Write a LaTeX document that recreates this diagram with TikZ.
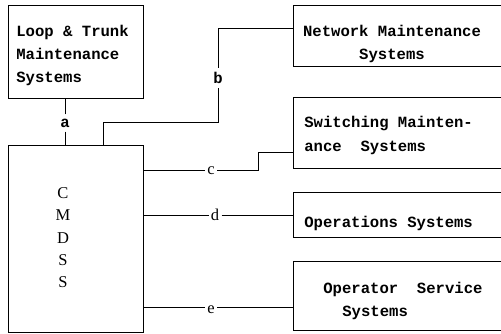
\documentclass[tikz,border=0pt]{standalone}
\usepackage{fontspec}
\setmainfont{Liberation Serif}
\setmonofont{Liberation Mono}
\begin{document}
\begin{tikzpicture}[x=1pt,y=-1pt, line width=0.75pt,
  box/.style={draw, rectangle, inner sep=0pt},
  tt/.style={font=\fontsize{15.6}{23}\selectfont\ttfamily\bfseries, inner sep=0pt},
  sr/.style={font=\fontsize{16.5}{22}\selectfont\rmfamily, inner sep=0pt},
  vlbl/.style={inner xsep=0pt, inner ysep=4pt},
  hlbl/.style={inner xsep=2pt, inner ysep=0pt}]
\useasboundingbox (0,0) rectangle (501,334);
\clip (0,0) rectangle (501,334);
% boxes
\node[box, minimum width=135pt, minimum height=93pt] (loop) at (75.5,51.5) {};
\node[box, minimum width=135pt, minimum height=187pt] (cmdss) at (75.5,238.5) {};
\node[box, minimum width=212pt, minimum height=61pt] (net) at (399,35.5) {};
\node[box, minimum width=212pt, minimum height=71pt] (sw) at (399,132.5) {};
\node[box, minimum width=212pt, minimum height=45pt] (ops) at (399,214.5) {};
\node[box, minimum width=212pt, minimum height=69pt] (opsv) at (399,295.5) {};
% texts
\node[tt, anchor=base west] (t1) at (16,37) {Loop \& Trunk};
\node[tt, anchor=base west] (t2) at (16,60) {Maintenance};
\node[tt, anchor=base west] (t3) at (16,83) {Systems};
\node[tt, anchor=base] (t4) at (392,37) {Network Maintenance};
\node[tt, anchor=base] (t5) at (392,60) {Systems};
\node[tt, anchor=base west] (t6) at (304,128) {Switching Mainten-};
\node[tt, anchor=base west] (t7) at (304,152) {ance~~Systems};
\node[tt, anchor=base west] (t8) at (304,227) {Operations Systems};
\node[tt, anchor=base west] (t9) at (323,293) {Operator~~Service};
\node[tt, anchor=base west] (t10) at (342,316) {Systems};
\node[sr, anchor=base] (m1) at (63,198) {C};
\node[sr, anchor=base] (m2) at (63,221) {M};
\node[sr, anchor=base] (m3) at (63,243) {D};
\node[sr, anchor=base] (m4) at (63,265) {S};
\node[sr, anchor=base] (m5) at (63,287) {S};
% connector labels
\node[tt, vlbl] (a) at (65,123) {a};
\node[tt, vlbl] (b) at (218,78) {b};
\node[sr, hlbl, anchor=base] (c) at (211,175) {c};
\node[sr, hlbl, anchor=base] (d) at (215,221) {d};
\node[sr, hlbl, anchor=base] (e) at (211,313) {e};
% coordinates
\coordinate (b1) at (103,122);
\coordinate (b2) at (218,122);
\coordinate (b3) at (218,28);
\coordinate (c1) at (258,170);
\coordinate (c2) at (258,152);
\coordinate (d1) at (0,215);
\coordinate (e1) at (0,307);
% connectors
\draw (a) -- (a |- loop.south);
\draw (a) -- (a |- cmdss.north);
\draw (b1 |- cmdss.north) -- (b1) -- (b2) -- (b);
\draw (b) -- (b3) -- (b3 -| net.west);
\draw (c1 -| cmdss.east) -- (c1 -| c.west);
\draw (c1 -| c.east) -- (c1) -- (c2) -- (c2 -| sw.west);
\draw (d1 -| cmdss.east) -- (d1 -| d.west);
\draw (d1 -| d.east) -- (d1 -| ops.west);
\draw (e1 -| cmdss.east) -- (e1 -| e.west);
\draw (e1 -| e.east) -- (e1 -| opsv.west);
\end{tikzpicture}
\end{document}
